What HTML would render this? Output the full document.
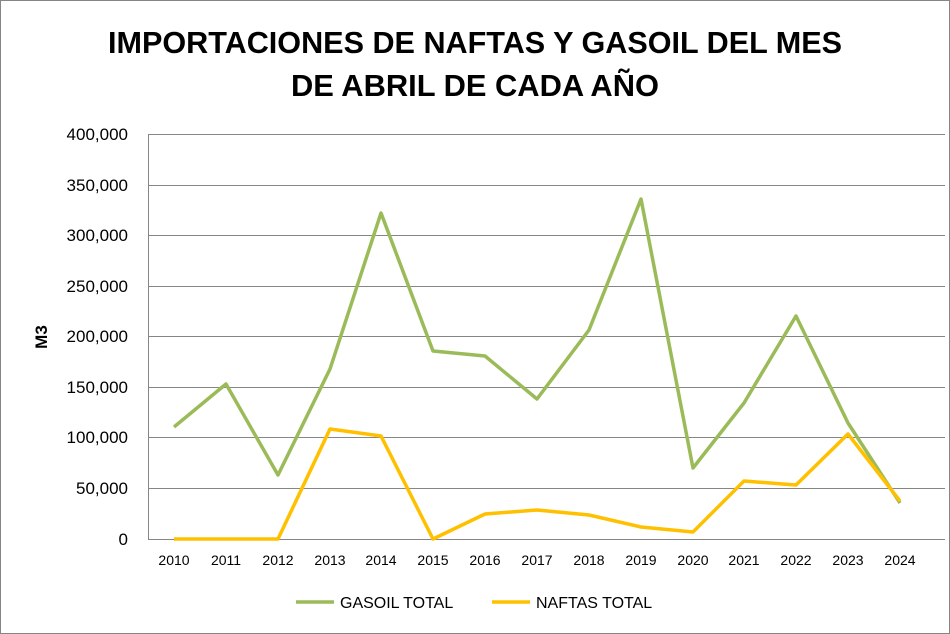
<!DOCTYPE html>
<html><head><meta charset="utf-8"><style>
body{margin:0;background:#fff}
svg{display:block}
text{font-family:"Liberation Sans",sans-serif}
</style></head><body>
<svg width="950" height="634" viewBox="0 0 950 634">
<rect x="0.5" y="0.5" width="949" height="633" fill="#fff" stroke="#868686"/>
<text x="475" y="53" text-anchor="middle" font-size="30.5" font-weight="bold" textLength="734" lengthAdjust="spacingAndGlyphs">IMPORTACIONES DE NAFTAS Y GASOIL DEL MES</text>
<text x="475" y="96" text-anchor="middle" font-size="30.5" font-weight="bold" textLength="368" lengthAdjust="spacingAndGlyphs">DE ABRIL DE CADA AÑO</text>
<g stroke="#868686" stroke-width="1">
<line x1="148" y1="134.5" x2="945" y2="134.5"/>
<line x1="148" y1="185.5" x2="945" y2="185.5"/>
<line x1="148" y1="235.5" x2="945" y2="235.5"/>
<line x1="148" y1="286.5" x2="945" y2="286.5"/>
<line x1="148" y1="336.5" x2="945" y2="336.5"/>
<line x1="148" y1="387.5" x2="945" y2="387.5"/>
<line x1="148" y1="437.5" x2="945" y2="437.5"/>
<line x1="148" y1="488.5" x2="945" y2="488.5"/>
<line x1="148" y1="539.5" x2="945" y2="539.5"/>
<line x1="148.5" y1="134" x2="148.5" y2="539"/>
</g>
<g font-size="17" text-anchor="end">
<text x="128" y="140">400,000</text>
<text x="128" y="191">350,000</text>
<text x="128" y="241">300,000</text>
<text x="128" y="292">250,000</text>
<text x="128" y="342">200,000</text>
<text x="128" y="393">150,000</text>
<text x="128" y="443">100,000</text>
<text x="128" y="494">50,000</text>
<text x="128" y="545">0</text>
</g>
<text transform="translate(47,337) rotate(-90)" text-anchor="middle" font-size="17" font-weight="bold">M3</text>
<g font-size="14" text-anchor="middle">
<text x="174" y="565">2010</text><text x="226" y="565">2011</text><text x="278" y="565">2012</text><text x="330" y="565">2013</text><text x="381" y="565">2014</text><text x="433" y="565">2015</text><text x="485" y="565">2016</text><text x="537" y="565">2017</text><text x="589" y="565">2018</text><text x="641" y="565">2019</text><text x="693" y="565">2020</text><text x="744" y="565">2021</text><text x="796" y="565">2022</text><text x="848" y="565">2023</text><text x="900" y="565">2024</text>
</g>
<polyline fill="none" stroke="#9BBB59" stroke-width="3.5" stroke-linejoin="round" points="174,427 226,384 278,475 330,369 381,213 433,351 485,356 537,399 589,330 641,199 693,468 744,403 796,316 848,423 900,503"/>
<polyline fill="none" stroke="#FFC000" stroke-width="3.5" stroke-linejoin="round" points="174,539 226,539 278,539 330,429 381,436 433,539 485,514 537,510 589,515 641,527 693,532 744,481 796,485 848,434 900,501"/>
<line x1="296" y1="602" x2="334" y2="602" stroke="#9BBB59" stroke-width="3.5"/>
<text x="340" y="608" font-size="16">GASOIL TOTAL</text>
<line x1="492" y1="602" x2="530" y2="602" stroke="#FFC000" stroke-width="3.5"/>
<text x="536" y="608" font-size="16">NAFTAS TOTAL</text>
</svg>
</body></html>
